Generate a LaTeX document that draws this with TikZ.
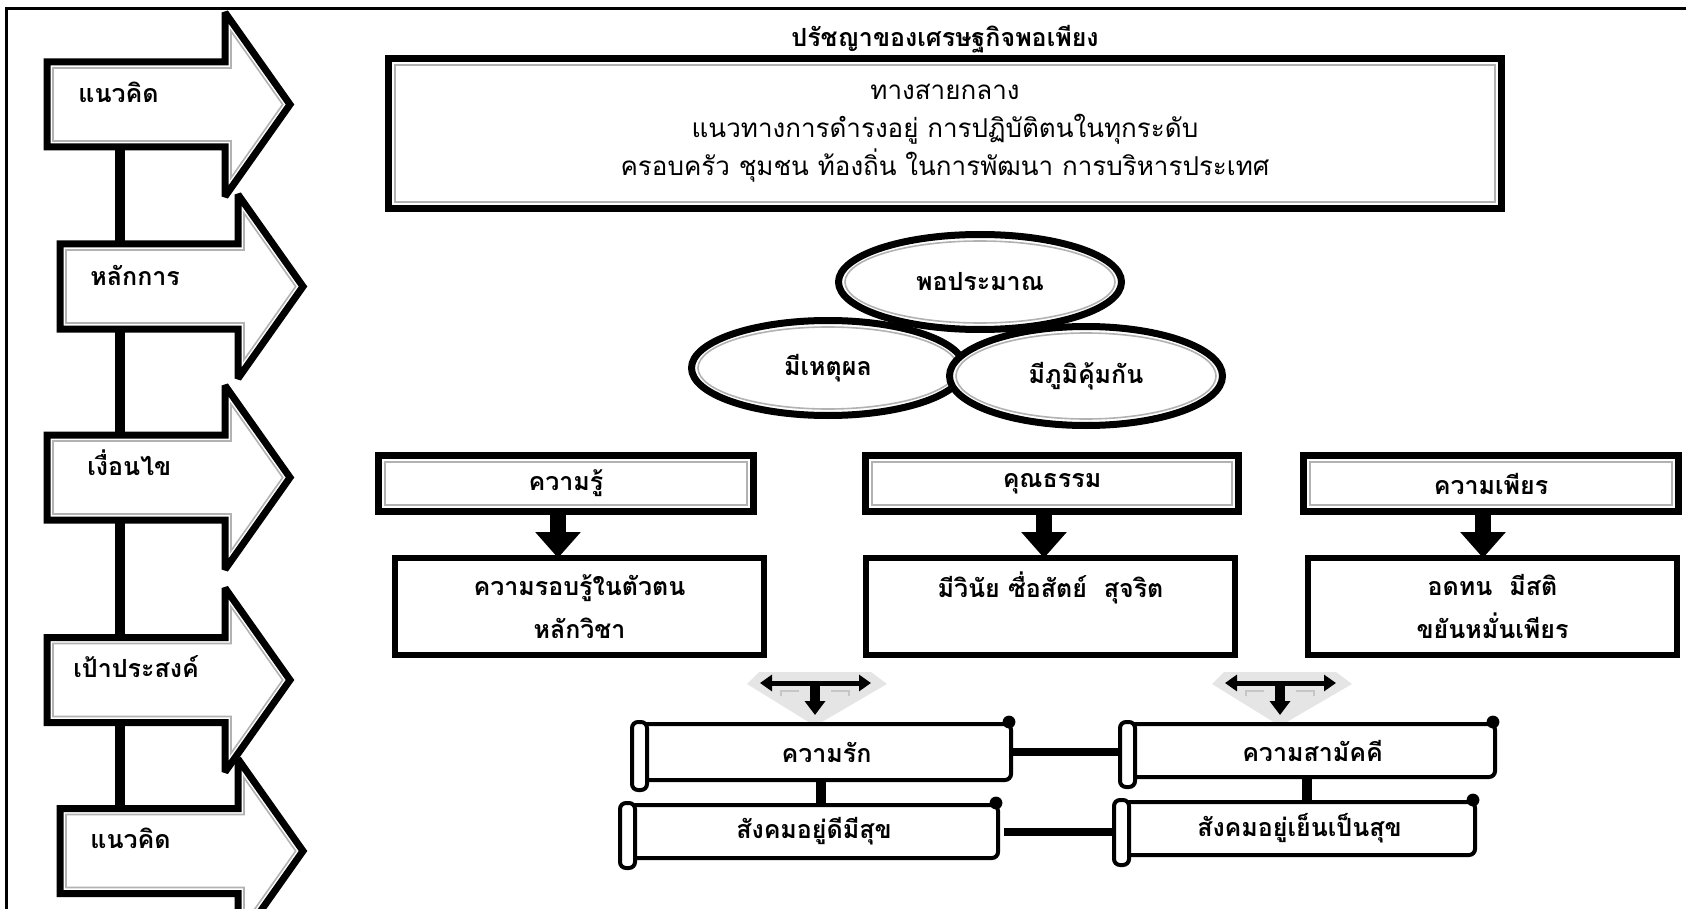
\documentclass[tikz,border=0pt]{standalone}
\usepackage{fontspec}
\newfontfamily\thai[Script=Thai]{Loma}
\usepackage{tikz}
\usetikzlibrary{shapes.geometric,arrows.meta,positioning}

\newcommand{\lblfont}{\thai\bfseries\fontsize{12.5}{15}\selectfont}

\tikzstyle{outerline} = [draw=black, line width=3.5pt, miter limit=1.6]
\tikzstyle{innerline} = [draw=gray!60, line width=0.8pt]
\tikzstyle{bar} = [line width=5pt]
\tikzstyle{sidetext} = [font=\lblfont, inner sep=0pt, anchor=west]
\tikzstyle{topbox} = [rectangle, outerline, fill=white, outer sep=0pt, align=center,
    minimum width=556.5pt, minimum height=75pt, font=\thai\fontsize{13}{19}\selectfont]
\tikzstyle{oval} = [ellipse, outerline, fill=white, outer sep=0pt, inner sep=0pt, font=\lblfont]
\tikzstyle{headbox} = [rectangle, outerline, fill=white, outer sep=0pt,
    minimum width=187.5pt, minimum height=28pt, font=\lblfont]
\tikzstyle{bodybox} = [rectangle, draw=black, line width=3pt, fill=white, outer sep=0pt, align=center,
    minimum width=184.5pt, minimum height=48.5pt, font=\thai\bfseries\fontsize{12.5}{21.5}\selectfont]
\tikzstyle{scroll} = [rectangle, draw=black, line width=2pt, rounded corners=3pt, fill=white,
    outer sep=0pt, font=\lblfont]
\tikzstyle{downarrow} = [line width=8pt, -{Triangle[width=22pt,length=13pt]}]

% big arrow on the left: tail x, middle y, name
\newcommand{\sidearrow}[3]{%
  \begin{scope}[shift={(#1,#2)}]
    \draw[outerline, fill=white] (0,-42.5) -- (178,-42.5) -- (178,-92) -- (243,0)
        -- (178,92) -- (178,42.5) -- (0,42.5) -- cycle;
    \draw[innerline] (6,-36.5) -- (184,-36.5) -- (184,-73.3) -- (235.7,0)
        -- (184,73.3) -- (184,36.5) -- (6,36.5) -- cycle;
  \end{scope}
  \coordinate (#3top) at (120,#2-42.5);
  \coordinate (#3bot) at (120,#2+42.5);
}
\newcommand{\innerframe}[1]{%
  \draw[innerline] ([shift={(3.25pt,-3.25pt)}]#1.north west) rectangle ([shift={(-3.25pt,3.25pt)}]#1.south east);
}
\newcommand{\scrollends}[1]{%
  \draw[line width=2pt, fill=white, rounded corners=3pt] ([xshift=-5pt,yshift=1pt]#1.north west)
      rectangle ([xshift=2.5pt,yshift=-5pt]#1.south west);
  \fill ([xshift=-1pt,yshift=1pt]#1.north east) circle (3.2pt);
}
% grey T sign with three arrow heads
\newcommand{\tsign}[2]{%
  \coordinate (#1) at (#2,672);
  \fill[gray!20] ([xshift=-34pt,yshift=-6pt]#1) -- ([xshift=-28pt]#1) -- ([xshift=28pt]#1)
      -- ([xshift=36pt,yshift=-6pt]#1) -- ([yshift=-27pt]#1) -- cycle;
  \draw[gray!45, line width=1pt] ([xshift=-17pt,yshift=-12pt]#1) -- ([xshift=-17pt,yshift=-9.5pt]#1) -- ([xshift=-8pt,yshift=-9.5pt]#1)
      ([xshift=8pt,yshift=-9.5pt]#1) -- ([xshift=17pt,yshift=-9.5pt]#1) -- ([xshift=17pt,yshift=-12pt]#1);
  \draw[line width=2.5pt, {Triangle[width=8pt,length=6pt]}-{Triangle[width=8pt,length=6pt]}]
      ([xshift=-27.5pt,yshift=-5.5pt]#1) -- ([xshift=28pt,yshift=-5.5pt]#1);
  \draw[line width=5pt, -{Triangle[width=10pt,length=7pt]}] ([yshift=-5.5pt]#1) -- ([yshift=-21.5pt]#1);
}

\begin{document}
\begin{tikzpicture}[x=0.5pt,y=-0.5pt]
\useasboundingbox (0,0) rectangle (1686,909);
\draw[line width=1.5pt] (6,909) -- (6,9) -- (1686,9);

% left column
\sidearrow{47}{104.5}{a1}
\sidearrow{60}{286.5}{a2}
\sidearrow{47}{477.5}{a3}
\sidearrow{47}{680}{a4}
\sidearrow{60}{851}{a5}
\draw[bar] (a1bot) -- (a2top);
\draw[bar] (a2bot) -- (a3top);
\draw[bar] (a3bot) -- (a4top);
\draw[bar] (a4bot) -- (a5top);
\node[sidetext] (t1) at (78,92) {แนวคิด};
\node[sidetext] (t2) at (90,275) {หลักการ};
\node[sidetext] (t3) at (87,463) {เงื่อนไข};
\node[sidetext] (t4) at (73,667) {เป้าประสงค์};
\node[sidetext] (t5) at (90,838) {แนวคิด};

% top
\node[topbox] (top) at (945,133.5) {ทางสายกลาง\\ แนวทางการดำรงอยู่ การปฏิบัติตนในทุกระดับ\\ ครอบครัว ชุมชน ท้องถิ่น ในการพัฒนา การบริหารประเทศ};
\innerframe{top}
\node[font=\lblfont, above=-1pt of top] (title) {ปรัชญาของเศรษฐกิจพอเพียง};

% three rings
\node[oval, minimum width=141.5pt, minimum height=47.5pt] (e1) at (980,282) {พอประมาณ};
\draw[innerline] (e1.center) ellipse (67.5pt and 20.5pt);
\node[oval, minimum width=136.5pt, minimum height=47.5pt] (e2) at (828,368) {มีเหตุผล};
\draw[innerline] (e2.center) ellipse (65pt and 20.5pt);
\node[oval, minimum width=136.5pt, minimum height=49.5pt] (e3) at (1086,376) {มีภูมิคุ้มกัน};
\draw[innerline] (e3.center) ellipse (65pt and 21.5pt);

% conditions
\node[headbox] (h1) at (566,483.5) {ความรู้};
\node[headbox, minimum width=186.5pt] (h2) at (1052,483.5) {คุณธรรม};
\node[headbox] (h3) at (1491,483.5) {ความเพียร};
\innerframe{h1}
\innerframe{h2}
\innerframe{h3}
\node[bodybox] (b1) at (579.5,606.5) {ความรอบรู้ในตัวตน\\ หลักวิชา};
\node[bodybox] (b2) at (1050.5,606.5) {มีวินัย ซื่อสัตย์~ สุจริต\\ \mbox{}};
\node[bodybox] (b3) at (1492.5,606.5) {อดทน~ มีสติ\\ ขยันหมั่นเพียร};
\draw[downarrow] ([xshift=-4pt]h1.south) -- ([xshift=-4pt]h1.south |- b1.north);
\draw[downarrow] ([xshift=-4pt]h2.south) -- ([xshift=-4pt]h2.south |- b2.north);
\draw[downarrow] ([xshift=-4pt]h3.south) -- ([xshift=-4pt]h3.south |- b3.north);

\tsign{tl}{815}
\tsign{tr}{1280}

% goals
\node[scroll, minimum width=184.5pt, minimum height=28pt] (rak) at (826.5,752) {ความรัก};
\node[scroll, minimum width=184pt, minimum height=26.5pt] (sk1) at (814,831.5) {สังคมอยู่ดีมีสุข};
\node[scroll, minimum width=182.5pt, minimum height=26.5pt] (sam) at (1312.5,750.5) {ความสามัคคี};
\node[scroll, minimum width=175.5pt, minimum height=26.5pt] (sk2) at (1299.5,828.5) {สังคมอยู่เย็นเป็นสุข};
\draw[line width=4pt] (rak.east) -- (rak.east -| sam.west);
\draw[line width=4pt] ([xshift=3pt]sk1.east) -- (sk1.east -| sk2.west);
\draw[line width=5pt] ([xshift=-3pt]rak.south) -- ([xshift=-3pt]rak.south |- sk1.north);
\draw[line width=5pt] ([xshift=-3pt]sam.south) -- ([xshift=-3pt]sam.south |- sk2.north);
\scrollends{rak}
\scrollends{sk1}
\scrollends{sam}
\scrollends{sk2}
\end{tikzpicture}
\end{document}
